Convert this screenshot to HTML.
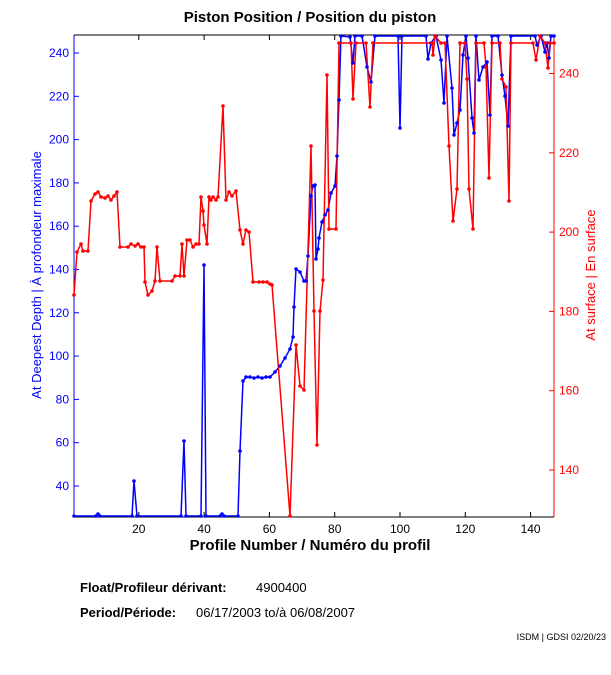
<!DOCTYPE html>
<html><head><meta charset="utf-8"><style>
html,body{margin:0;padding:0;background:#fff;width:611px;height:675px;overflow:hidden}
svg{display:block}
text{font-family:"Liberation Sans",Arial,sans-serif}
</style></head><body>
<svg id="s" width="611" height="675" viewBox="0 0 611 675">
<rect width="611" height="675" fill="#fff"/>
<text x="310" y="22" text-anchor="middle" font-size="15" font-weight="bold">Piston Position / Position du piston</text>
<line x1="74" y1="35" x2="554" y2="35" stroke="#000"/>
<line x1="74" y1="517" x2="554" y2="517" stroke="#000"/>
<line x1="74" y1="35" x2="74" y2="517" stroke="#00f"/>
<line x1="554" y1="35" x2="554" y2="517" stroke="#f00"/>
<g id="ticks"></g>
<text x="310" y="550" text-anchor="middle" font-size="15" font-weight="bold">Profile Number / Numéro du profil</text>
<text transform="translate(41,275) rotate(-90)" text-anchor="middle" font-size="13" fill="#00f">At Deepest Depth | À profondeur maximale</text>
<text transform="translate(595,275) rotate(-90)" text-anchor="middle" font-size="13" fill="#f00">At surface | En surface</text>
<polyline id="blue" fill="none" stroke="#00f" stroke-width="1.5" points="74,516 96,516 98,514 100,516 132,516 134,481 137,516 181,516 184,441 186,516 201,516 204,265 206,516 220,516 222,514 224,516 238,516 240,451 243,381 246,377 250,377 254,378 258,377 262,378 266,377 270,377 275,372 280,366 285,358 290,349 293,337 294,307 296,269 300,272 304,281 306,281 308,256 311,196 313,186 315,185 316,259 318,249 319,238 322,222 325,215 328,210 331,193 335,186 337,156 339,100 341,36 350,37 353,63 355,36 362,36 367,67 371,82 375,36 398,36 400,128 402,36 426,36 428,59 431,43 436,36 441,60 444,103 447,36 452,88 454,135 457,123 460,110 463,55 466,36 468,58 472,118 474,133 476,36 479,80 483,67 487,62 490,115 492,36 498,36 502,75 505,96 508,126 511,36 535,36 537,45 541,36 545,52 547,43 549,58 551,36 554,36"/>
<polyline id="red" fill="none" stroke="#f00" stroke-width="1.5" points="74,295 77,252 81,244 83,251 88,251 91,201 95,194 98,192 101,197 105,198 108,196 111,200 114,196 117,192 120,247 128,247 131,244 135,246 138,244 141,247 144,247 145,282 148,295 152,291 155,281 157,247 160,281 172,281 175,276 180,276 182,244 184,276 187,240 190,240 193,247 196,244 199,244 201,197 203,211 204,225 207,244 209,197 211,200 213,197 216,200 218,197 223,106 226,200 229,192 232,196 236,191 240,230 243,244 246,230 249,232 253,282 259,282 263,282 267,282 270,284 272,285 290,516 296,345 300,386 304,390 311,146 314,311 317,445 320,311 323,280 327,75 329,229 336,229 339,43 351,43 353,99 356,43 366,43 370,107 373,43 432,43 433,55 435,36 441,43 445,43 449,146 453,221 457,189 460,43 465,43 467,79 469,189 473,229 476,43 484,43 486,67 489,178 492,43 500,43 502,79 506,87 509,201 511,43 533,43 536,60 540,36 545,43 548,68 550,43 554,43"/>
<g id="dots"></g>
<text x="80" y="592" font-size="13" font-weight="bold">Float/Profileur dérivant:</text>
<text x="256" y="592" font-size="13">4900400</text>
<text x="80" y="617" font-size="13" font-weight="bold">Period/Période:</text>
<text x="196" y="617" font-size="13">06/17/2003  to/à  06/08/2007</text>
<text x="606" y="640" text-anchor="end" font-size="9">ISDM | GDSI 02/20/23</text>
</svg>
<script>
var ns="http://www.w3.org/2000/svg",t=document.getElementById("ticks"),d=document.getElementById("dots");
function el(n,a,p,txt){var e=document.createElementNS(ns,n);for(var k in a)e.setAttribute(k,a[k]);if(txt)e.textContent=txt;p.appendChild(e);return e;}
for(var v=20;v<=140;v+=20){var x=73.5+v*3.265;el("line",{x1:x,y1:517,x2:x,y2:512,stroke:"#000"},t);el("line",{x1:x,y1:35,x2:x,y2:40,stroke:"#000"},t);el("text",{x:x,y:533,"text-anchor":"middle","font-size":"12"},t,v);}
for(var v=40;v<=240;v+=20){var y=53+(240-v)*2.165;el("line",{x1:74,y1:y,x2:79,y2:y,stroke:"#00f"},t);el("text",{x:69,y:y+4,"text-anchor":"end","font-size":"12",fill:"#00f"},t,v);}
for(var v=140;v<=240;v+=20){var y=73.5+(240-v)*3.965;el("line",{x1:554,y1:y,x2:549,y2:y,stroke:"#f00"},t);el("text",{x:559,y:y+4,"font-size":"12",fill:"#f00"},t,v);}
["blue","red"].forEach(function(id){var c=id=="blue"?"#00f":"#f00";document.getElementById(id).getAttribute("points").trim().split(/\s+/).forEach(function(p){var q=p.split(",");el("circle",{cx:q[0],cy:q[1],r:1.8,fill:c},d);});});
</script>
</body></html>
